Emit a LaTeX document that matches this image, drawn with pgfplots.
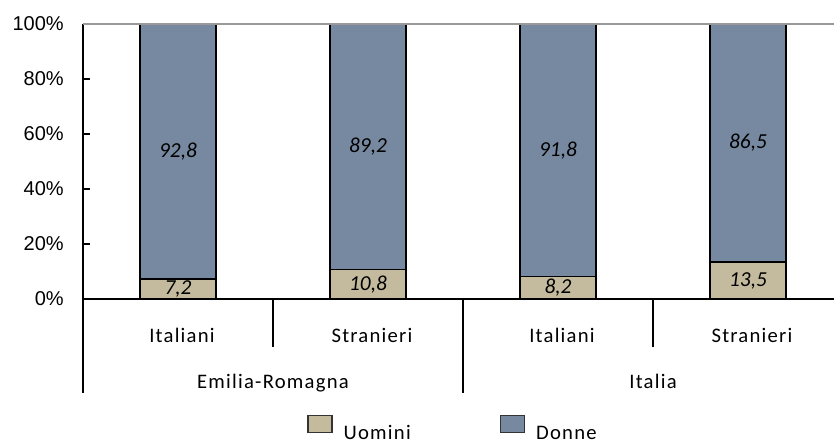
\documentclass[border=0pt]{standalone}
\usepackage{fontspec}
\setmainfont{Carlito}
\newfontfamily\arialfont{Liberation Sans}
\newfontfamily\catfont[LetterSpace=6]{Carlito}
\usepackage{pgfplots}
\pgfplotsset{compat=1.18}
\usepackage{pgfplotstable}

\definecolor{uomini}{RGB}{196,187,159}
\definecolor{donne}{RGB}{119,137,160}

% share of men and women, by citizenship
\pgfplotstableread{
x    u     d
0.5  7.2   92.8
1.5  10.8  89.2
2.5  8.2   91.8
3.5  13.5  86.5
}\sharetable

\begin{document}
\begin{tikzpicture}
\begin{axis}[
  at={(62.25pt,-224.25pt)}, anchor=origin,
  scale only axis,
  width=570pt, height=206.25pt,
  xmin=0, xmax=4, ymin=0, ymax=100,
  ybar, bar width=57pt, bar shift=0pt,
  axis x line*=bottom, axis y line*=left,
  axis line style={black, line width=1.1pt},
  xtick=\empty,
  ytick={0,20,40,60,80,100},
  yticklabel={\pgfmathprintnumber{\tick}\%},
  yticklabel style={font=\arialfont\fontsize{15}{17}\selectfont, inner sep=0pt, xshift=-14.25pt},
  y tick style={black, line width=1.1pt},
  tick align=inside, major tick length=5pt,
  /pgf/number format/assume math mode=true,
  clip=false,
  legend style={draw=none, fill=none, inner sep=0pt, at={(0.2947,-0.52)}, anchor=south west,
    legend columns=2, font=\catfont\fontsize{15.5}{17}\selectfont,
    nodes={inner sep=0pt},
    /tikz/every odd column/.append style={column sep=8.25pt},
    /tikz/every even column/.append style={column sep=66.75pt}},
  legend image code/.code={\draw[#1, draw=black!80, line width=1pt] (0pt,0.9pt) rectangle (18pt,13.65pt);},
  value label/.style={draw=none, fill=none, forget plot, point meta=explicit,
    nodes near coords={\pgfmathprintnumber[fixed,precision=1,fixed zerofill,use comma]{\pgfplotspointmeta}},
    every node near coord/.style={font=\itshape\fontsize{16}{18}\selectfont, anchor=center, inner sep=0pt}},
]
% Donne segment spans the whole column, Uomini is laid over its lower part
\addplot[fill=donne, draw=black, line width=1.1pt, forget plot] table[x=x, y expr=\thisrow{u}+\thisrow{d}] {\sharetable};
\addplot[fill=uomini, draw=black, line width=1.1pt, forget plot] table[x=x, y=u] {\sharetable};

% value labels in the middle of each segment
\addplot[value label] table[x=x, y expr=\thisrow{u}/2, meta=u] {\sharetable};
\addplot[value label] table[x=x, y expr=\thisrow{u}+\thisrow{d}/2, meta=d] {\sharetable};

\addlegendimage{fill=uomini}
\addlegendentry{Uomini}
\addlegendimage{fill=donne}
\addlegendentry{Donne}

% top border of the plot area
\draw[gray!80, line width=1pt] (axis cs:0,100) -- (axis cs:4,100);

% hierarchical category axis
\draw[black, line width=1.1pt] (axis cs:0,0) -- ++(0,-70.5pt);
\draw[black, line width=1.1pt] (axis cs:2,0) -- ++(0,-70.5pt);
\draw[black, line width=1.1pt] (axis cs:4,0) -- ++(0,-70.5pt);
\draw[black, line width=1.1pt] (axis cs:1,0) -- ++(0,-36pt);
\draw[black, line width=1.1pt] (axis cs:3,0) -- ++(0,-36pt);
\tikzset{cat/.style={font=\catfont\fontsize{15.5}{17}\selectfont, anchor=base, inner sep=0pt}}
\node[cat] at ([xshift=3pt,yshift=-32.25pt]axis cs:0.5,0) {Italiani};
\node[cat] at ([xshift=3pt,yshift=-32.25pt]axis cs:1.5,0) {Stranieri};
\node[cat] at ([xshift=3pt,yshift=-32.25pt]axis cs:2.5,0) {Italiani};
\node[cat] at ([xshift=3pt,yshift=-32.25pt]axis cs:3.5,0) {Stranieri};
\node[cat] at ([yshift=-66.75pt]axis cs:1,0) {Emilia-Romagna};
\node[cat] at ([yshift=-66.75pt]axis cs:3,0) {Italia};
\end{axis}
\pgfresetboundingbox
\useasboundingbox (0,0) rectangle (625.5pt,-333pt);
\end{tikzpicture}
\end{document}
